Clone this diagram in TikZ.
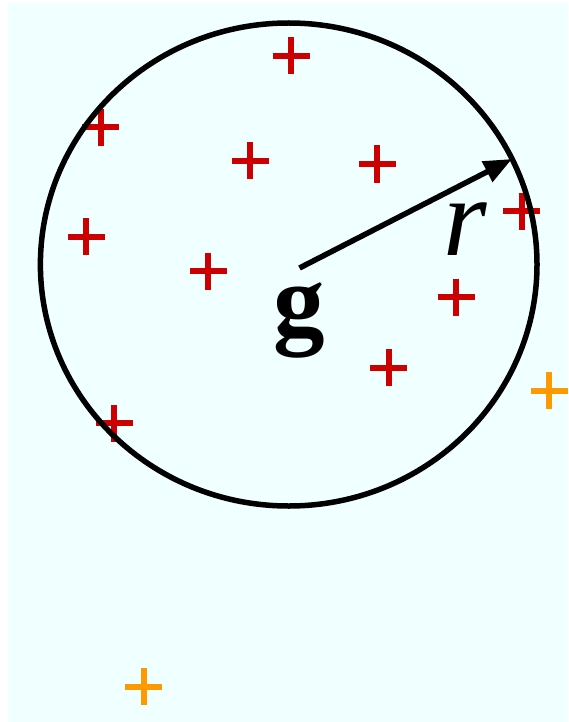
\documentclass[tikz,border=0pt]{standalone}
\usepackage{fontspec}
\setmainfont{Liberation Serif}
\usetikzlibrary{arrows.meta}
\definecolor{bgcol}{RGB}{240,255,255}
\definecolor{plusred}{RGB}{204,0,0}
\definecolor{plusorange}{RGB}{255,153,0}
\tikzset{
  redplus/.style={draw=plusred, line width=6pt},
  orangeplus/.style={draw=plusorange, line width=6pt},
  ring/.style={draw=black, line width=5.5pt},
  radius arrow/.style={draw=black, line width=5.5pt, -{Triangle[length=28pt,width=22pt]}},
}
\newcommand{\plusat}[3]{\path[#1] (#2,#3) +(-18.5,0) -- +(18.5,0) +(0,-18.5) -- +(0,18.5);}
\begin{document}
\begin{tikzpicture}[x=1pt,y=-1pt]
\useasboundingbox (0,0) rectangle (568,722);
\fill[bgcol] (8,3) rectangle (568,722);
% red pluses
\plusat{redplus}{291}{56}
\plusat{redplus}{100.7}{127.5}
\plusat{redplus}{250}{161}
\plusat{redplus}{377}{164}
\plusat{redplus}{521.5}{211}
\plusat{redplus}{86.3}{236.5}
\plusat{redplus}{208.3}{271}
\plusat{redplus}{456}{297}
\plusat{redplus}{388.5}{367.5}
\plusat{redplus}{114.3}{423.3}
% orange pluses
\plusat{orangeplus}{549.3}{390.7}
\plusat{orangeplus}{143.7}{686.5}
% circle
\coordinate (c) at (288.7,264.5);
\path[ring] (c) ellipse [x radius=248.3, y radius=241.5];
% radius arrow
\coordinate (start) at (299.5,268);
\coordinate (tip) at (512,159);
\path[radius arrow] (start) -- (tip);
% labels
\node[inner sep=0pt, font=\fontsize{103}{105}\selectfont\bfseries] (g) at (299,320.5) {g};
\node[inner sep=0pt, font=\fontsize{112}{114}\selectfont\itshape] (r) at (465,229) {r};
\end{tikzpicture}
\end{document}
